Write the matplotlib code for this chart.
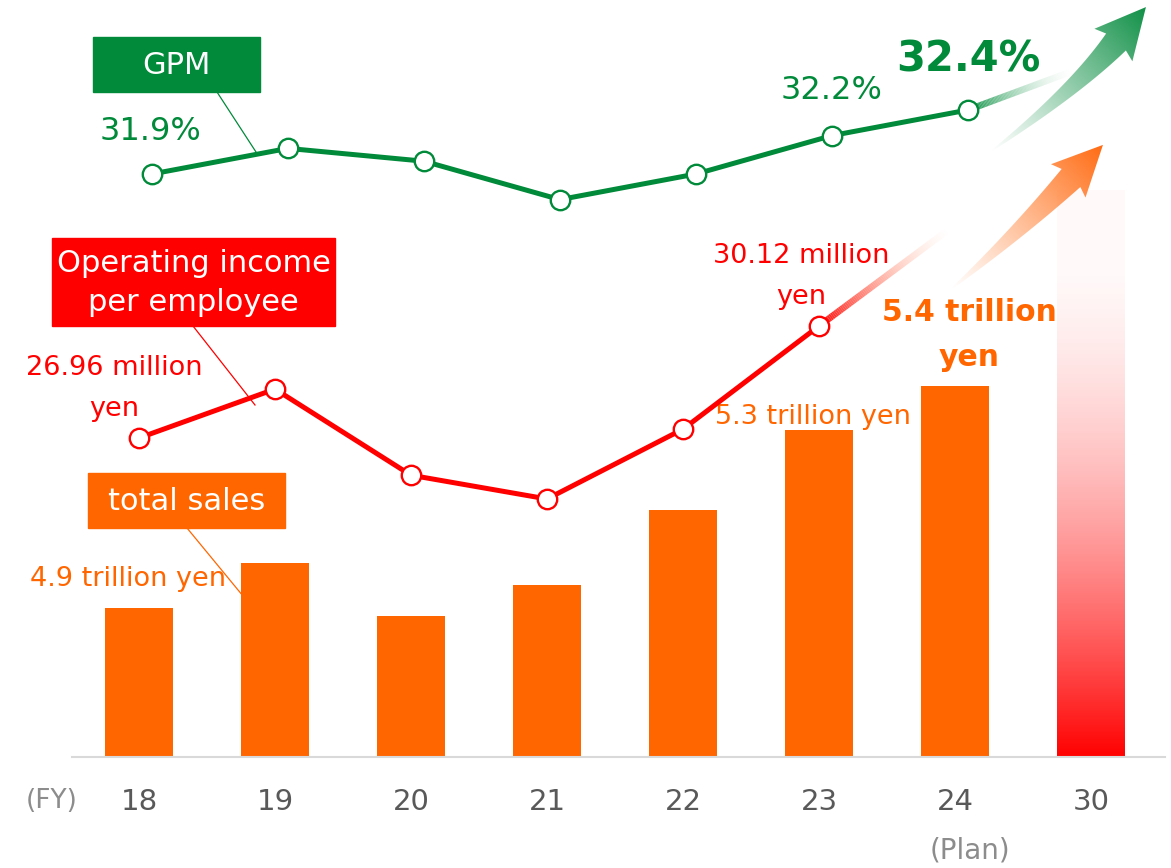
"""
Sales / GPM / operating income per employee, FY18-FY24 with FY30 goal.
"""

import numpy as np
import matplotlib
matplotlib.use('Agg')  # headless, save to file
import matplotlib.pyplot as plt
from matplotlib.patches import Rectangle, Polygon
from matplotlib.collections import LineCollection
from matplotlib.colors import to_rgb

GREEN = '#008A3A'
RED = '#FF0000'
ORANGE = '#FF6600'
TICK_GRAY = '#595959'

years = ['18', '19', '20', '21', '22', '23', '24', '30']
sales = [4.9, 5.0, 4.88, 4.95, 5.12, 5.3, 5.4]          # trillion yen, FY18-24
sales_goal = 5.84                                        # FY30 goal bar
gpm = [31.9, 32.1, 32.0, 31.7, 31.9, 32.2, 32.4]         # %, FY18-24
op_income = [26.96, 28.34, 25.91, 25.24, 27.21, 30.12]  # million yen, FY18-23

W, H = 1171, 868
BASE_PX = 757      # baseline, pixels from top
GPM_SHIFT = 0.095  # GPM markers sit a little right of the bar centres


def limits_from(v1, p1, v2, p2):
    """ylim for an axes spanning BASE_PX..0 px, given two value/pixel anchors."""
    scale = (p1 - p2) / (v2 - v1)
    return v1 - (BASE_PX - p1) / scale, v1 + p1 / scale


def fade_segment(axis, start, delta, c0, c1, lw, n=80):
    """Line that fades out from start along delta."""
    t = np.linspace(0, 1, n + 1)
    pts = np.column_stack([start[0] + delta[0] * t,
                           start[1] + delta[1] * t]).reshape(-1, 1, 2)
    segs = np.concatenate([pts[:-1], pts[1:]], axis=1)
    tm = ((t[:-1] + t[1:]) / 2)[:, None]
    cols = np.zeros((n, 4))
    cols[:, :3] = np.array(to_rgb(c0)) * (1 - tm) + np.array(to_rgb(c1)) * tm
    cols[:, 3] = (1 - tm[:, 0]) ** 1.3
    axis.add_collection(LineCollection(segs, colors=cols, linewidths=lw,
                                       capstyle='butt', zorder=2))


def gradient_arrow(axo, tail, ctrl, base, body_w, head_w, head_len, color):
    """Curved arrow (quadratic bezier body) filled with a transparent->solid gradient."""
    p0, p1, p2 = (np.asarray(p, float) for p in (tail, ctrl, base))
    t = np.linspace(0, 1, 80)[:, None]
    c = (1 - t) ** 2 * p0 + 2 * (1 - t) * t * p1 + t ** 2 * p2
    d = 2 * (1 - t) * (p1 - p0) + 2 * t * (p2 - p1)
    d /= np.linalg.norm(d, axis=1, keepdims=True)
    nrm = np.column_stack([-d[:, 1], d[:, 0]])
    w = 0.5 + (body_w - 0.5) * t
    left, right = c + nrm * w, c - nrm * w
    dh, nh = d[-1], nrm[-1]
    tip = p2 + dh * head_len
    barb_l = p2 + nh * head_w - dh * 4
    barb_r = p2 - nh * head_w - dh * 4
    poly = np.vstack([left, barb_l, tip, barb_r, right[::-1]])
    patch = Polygon(poly, closed=True, facecolor='none', edgecolor='none')
    axo.add_patch(patch)

    x0, y0 = poly.min(0)
    x1, y1 = poly.max(0)
    gx, gy = np.meshgrid(np.linspace(x0, x1, 300), np.linspace(y0, y1, 300))
    v = tip - p0
    s = np.clip(((gx - p0[0]) * v[0] + (gy - p0[1]) * v[1]) / (v @ v), 0, 1)
    img = np.zeros(gx.shape + (4,))
    img[..., :3] = to_rgb(color)
    img[..., 3] = s ** 1.1
    axo.imshow(img, extent=(x0, x1, y1, y0), origin='upper', aspect='auto',
               clip_path=patch, interpolation='bilinear', zorder=3)


plt.rcParams['font.family'] = 'DejaVu Sans'
fig = plt.figure(figsize=(W / 100, H / 100), dpi=100)

# --- bars: total sales ---
ax = fig.add_axes([72 / W, (H - BASE_PX) / H, (1165 - 72) / W, BASE_PX / H])
x = np.arange(len(years))
ax.bar(x[:len(sales)], sales, width=0.5, color=ORANGE, zorder=2)
sales_lim = (4.563, 4.563 + BASE_PX / 443.6)   # truncated value axis
goal = ax.bar(x[-1], sales_goal, width=0.5, color='none', zorder=2)[0]
tg = np.linspace(0, 1, 256)
grad = np.zeros((256, 1, 4))
grad[..., 0] = 1.0
grad[:, 0, 3] = np.clip((1 - tg) ** 1.9, 0.025, 1)
ax.imshow(grad, extent=(x[-1] - 0.25, x[-1] + 0.25, sales_lim[0], sales_goal),
          origin='lower', aspect='auto', clip_path=goal, zorder=2)

ax.set_xlim((72 - 139) / 136, (1165 - 139) / 136)
ax.set_ylim(*sales_lim)
for side in ['top', 'left', 'right']:
    ax.spines[side].set_visible(False)
ax.spines['bottom'].set_color('#D9D9D9')
ax.spines['bottom'].set_linewidth(1.5)
ax.set_yticks([])
ax.set_xticks(x, years)
ax.tick_params(axis='x', length=0, pad=22, labelsize=21, labelcolor=TICK_GRAY)
ax.patch.set_visible(False)

ax.annotate(f'{sales[0]} trillion yen', (x[0], sales[0]), xytext=(-11, 29),
            textcoords='offset pixels', ha='center', va='center',
            color=ORANGE, fontsize=19.5)
ax.annotate(f'{sales[5]} trillion yen', (x[5], sales[5]), xytext=(-6, 13),
            textcoords='offset pixels', ha='center', va='center',
            color=ORANGE, fontsize=19.5)
ax.annotate(f'{sales[6]} trillion\nyen', (x[6], sales[6]), xytext=(14, 51),
            textcoords='offset pixels', ha='center', va='center',
            color=ORANGE, fontsize=21.5, fontweight='bold', linespacing=1.7)

# --- GPM line ---
ax_g = ax.twinx()
ax_g.set_ylim(*limits_from(gpm[0], 174, gpm[-1], 110))
ax_g.axis('off')
xg = x[:len(gpm)] + GPM_SHIFT
fade_segment(ax_g, (xg[-1], gpm[-1]), (0.76, 0.30), GREEN, '#9AD5B0', 4.8)
ax_g.plot(xg, gpm, color=GREEN, lw=3.6, marker='o', ms=14,
          mfc='white', mec=GREEN, mew=1.7, zorder=4)
ax_g.annotate(f'{gpm[0]}%', (xg[0], gpm[0]), xytext=(-1, 42),
              textcoords='offset pixels', ha='center', va='center',
              color=GREEN, fontsize=23)
ax_g.annotate(f'{gpm[5]}%', (xg[5], gpm[5]), xytext=(0, 45),
              textcoords='offset pixels', ha='center', va='center',
              color=GREEN, fontsize=23)
ax_g.annotate(f'{gpm[6]}%', (xg[6], gpm[6]), xytext=(0, 50),
              textcoords='offset pixels', ha='center', va='center',
              color=GREEN, fontsize=30, fontweight='bold')

# --- operating income per employee ---
ax_r = ax.twinx()
ax_r.set_ylim(*limits_from(op_income[0], 438, op_income[-1], 326))
ax_r.axis('off')
fade_segment(ax_r, (x[5], op_income[-1]), (0.95, 2.71), RED, '#FF9A60', 4.8)
ax_r.plot(x[:len(op_income)], op_income, color=RED, lw=3.6, marker='o', ms=14,
          mfc='white', mec=RED, mew=1.7, zorder=4)
ax_r.annotate(f'{op_income[0]:.2f} million\nyen', (x[0], op_income[0]),
              xytext=(-25, 50), textcoords='offset pixels', ha='center',
              va='center', color=RED, fontsize=19.5, linespacing=1.75)
ax_r.annotate(f'{op_income[-1]:.2f} million\nyen', (x[5], op_income[-1]),
              xytext=(-18, 50), textcoords='offset pixels', ha='center',
              va='center', color=RED, fontsize=19.5, linespacing=1.75)

# --- overlay in pixel coords: series tags, leaders, trend arrows ---
axo = fig.add_axes([0, 0, 1, 1])
axo.patch.set_visible(False)
axo.axis('off')

tags = [
    ('GPM', GREEN, (93, 37, 167, 55), ((217, 92), (256, 152))),
    ('Operating income\nper employee', RED, (52, 238, 283, 88), ((193, 326), (255, 405))),
    ('total sales', ORANGE, (88, 473, 197, 55), ((187, 528), (243, 596))),
]
for text, col, (bx, by, bw, bh), (p, q) in tags:
    axo.add_patch(Rectangle((bx, by), bw, bh, color=col, zorder=5))
    axo.text(bx + bw / 2, by + bh / 2 + 1, text, color='white', ha='center',
             va='center', fontsize=22, linespacing=1.4, zorder=6)
    axo.plot([p[0], q[0]], [p[1], q[1]], color=col, lw=0.9, zorder=5)

gradient_arrow(axo, (990, 152), (1074, 91), (1116, 42), 13, 25, 46, '#0E8F45')
gradient_arrow(axo, (950, 290), (1015, 236), (1071, 178), 13, 24, 46, '#FF6A10')

axo.set_xlim(0, W)
axo.set_ylim(H, 0)

fig.text(52 / W, (H - 801) / H, '(FY)', ha='center', va='center',
         fontsize=19, color='#8C8C8C')
fig.text(970 / W, (H - 850) / H, '(Plan)', ha='center', va='center',
         fontsize=20, color='#8C8C8C')

fig.savefig('out.png', dpi=100)
plt.close(fig)
